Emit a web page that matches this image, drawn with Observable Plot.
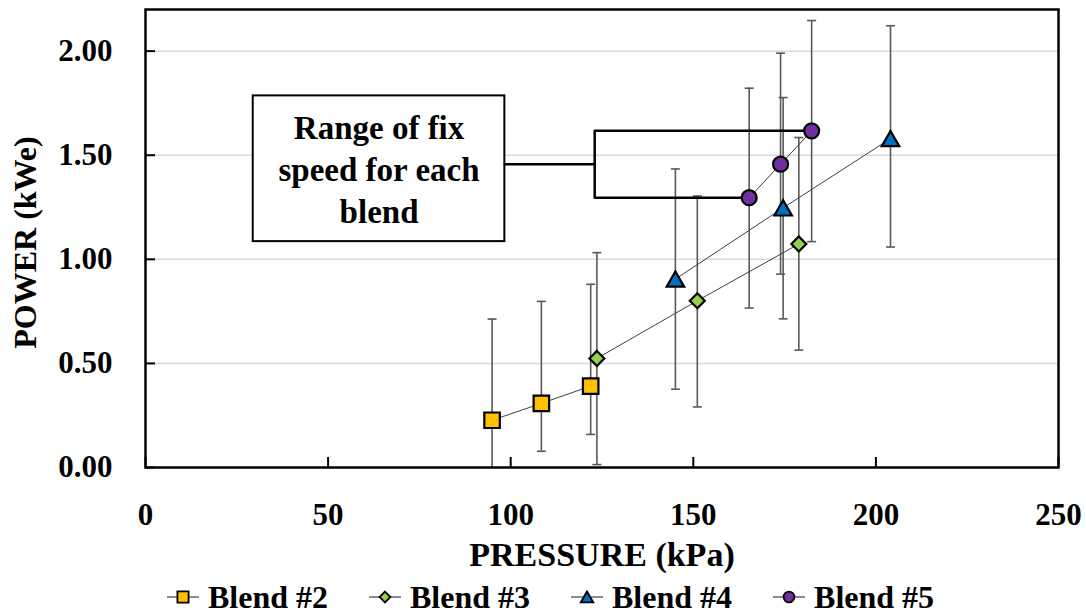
<!DOCTYPE html>
<html>
<head>
<meta charset="utf-8">
<script src="https://cdn.jsdelivr.net/npm/d3@7"></script>
<script src="https://cdn.jsdelivr.net/npm/@observablehq/plot@0.6"></script>
<style>
  html, body { margin: 0; padding: 0; background: #fff; }
  #chart { width: 1086px; }
  .legend {
    display: flex; justify-content: center; align-items: center;
    gap: 40px; height: 34px; padding-left: 14px;
    font-family: "Liberation Serif", serif; font-weight: bold; font-size: 32px; color: #000;
  }
  .legend .item { display: flex; align-items: center; gap: 8px; }
  .legend svg { display: block; }
</style>
</head>
<body>
<div id="chart"></div>
<script>
// Engine power vs. intake pressure for four fuel blends (mean ± error)
const blendNames = ["Blend #2", "Blend #3", "Blend #4", "Blend #5"];
const blendColors = ["#FFC000", "#92D050", "#0070C0", "#7030A0"];

const pressure2 = [94.9, 108.4, 121.9];
const power2    = [0.227, 0.308, 0.391];
const low2      = [-0.26, 0.078, 0.159];
const high2     = [0.713, 0.798, 0.880];

const pressure3 = [123.6, 151.1, 178.9];
const power3    = [0.524, 0.801, 1.074];
const low3      = [0.014, 0.291, 0.564];
const high3     = [1.032, 1.304, 1.585];

const pressure4 = [145.1, 174.6, 204.0];
const power4    = [0.905, 1.247, 1.580];
const low4      = [0.376, 0.714, 1.059];
const high4     = [1.434, 1.777, 2.122];

const pressure5 = [165.3, 173.9, 182.4];
const power5    = [1.296, 1.457, 1.617];
const low5      = [0.766, 0.929, 1.085];
const high5     = [1.822, 1.990, 2.147];

const xTicks = [0, 50, 100, 150, 200, 250];
const yTicks = [0, 0.5, 1.0, 1.5, 2.0];
const xTitle = "PRESSURE (kPa)";
const yTitle = "POWER (kWe)";

// Callout: text box and bracket spanning the Blend #5 speed range
const noteText = "Range of fix\nspeed for each\nblend";
const noteBoxX = [29.5, 98.4];
const noteBoxY = [1.085, 1.785];
const bracketX = 123.0;

// marker shapes (centred on their bounding box)
const capSymbol = { draw(ctx, size) { const r = Math.sqrt(size / Math.PI); ctx.moveTo(-r, 0); ctx.lineTo(r, 0); } };
const squareSymbol = { draw(ctx, size) { const s = Math.sqrt(size) / 2; ctx.rect(-s, -s, 2 * s, 2 * s); } };
const diamondSymbol = { draw(ctx, size) { const s = Math.sqrt(size / 2); ctx.moveTo(0, -s); ctx.lineTo(s, 0); ctx.lineTo(0, s); ctx.lineTo(-s, 0); ctx.closePath(); } };
const triangleSymbol = { draw(ctx, size) { const a = Math.sqrt(size / (Math.sqrt(3) / 4)); const h = a * Math.sqrt(3) / 2; ctx.moveTo(0, -h / 2); ctx.lineTo(a / 2, h / 2); ctx.lineTo(-a / 2, h / 2); ctx.closePath(); } };
const circleSymbol = { draw(ctx, size) { const r = Math.sqrt(size / Math.PI); ctx.moveTo(r, 0); ctx.arc(0, 0, r, 0, 2 * Math.PI); } };

// size = marker width in px
const series = [
  { name: blendNames[0], color: blendColors[0], symbol: squareSymbol,   size: 15.5, p: pressure2, w: power2, lo: low2, hi: high2 },
  { name: blendNames[1], color: blendColors[1], symbol: diamondSymbol,  size: 15,   p: pressure3, w: power3, lo: low3, hi: high3 },
  { name: blendNames[2], color: blendColors[2], symbol: triangleSymbol, size: 17.5, p: pressure4, w: power4, lo: low4, hi: high4 },
  { name: blendNames[3], color: blendColors[3], symbol: circleSymbol,   size: 15,   p: pressure5, w: power5, lo: low5, hi: high5 }
];
function areaFor(symbol, w) {
  if (symbol === squareSymbol) return w * w;
  if (symbol === diamondSymbol) return 2 * (w / 2) ** 2;
  if (symbol === triangleSymbol) return (Math.sqrt(3) / 4) * w * w;
  return Math.PI * (w / 2) ** 2;
}
const rFor = s => Math.sqrt(areaFor(s.symbol, s.size) / Math.PI);

const rows = series.flatMap(s => s.p.map((p, i) => ({ blend: s.name, pressure: p, power: s.w[i], low: s.lo[i], high: s.hi[i] })));

const W = 1086, H = 580;
const mL = 145, mR = 28, mT = 9, mB = 113;
const innerW = W - mL - mR, innerH = H - mT - mB;

const firstP5 = { x: pressure5[0], y: power5[0] };
const lastP5 = { x: pressure5[pressure5.length - 1], y: power5[power5.length - 1] };
const noteMidY = (firstP5.y + lastP5.y) / 2;

const marks = [
  Plot.ruleY(yTicks.filter(d => d > 0), { stroke: "#d9d9d9", strokeWidth: 1.5 }),
  // inward tick marks
  Plot.ruleY(yTicks, { stroke: "#000", strokeWidth: 2, insetRight: innerW - 10 }),
  Plot.ruleX(xTicks, { stroke: "#000", strokeWidth: 2, insetTop: innerH - 10 }),
  Plot.axisY(yTicks, { tickSize: 0, tickPadding: 33, tickFormat: d => d.toFixed(2), label: null }),
  Plot.axisX(xTicks, { tickSize: 0, tickPadding: 35, tickFormat: d => String(d), label: null }),
  // axis titles
  Plot.text([yTitle], { frameAnchor: "left", rotate: -90, dx: -120, dy: 4, lineAnchor: "middle", textAnchor: "middle", fontSize: 32 }),
  Plot.text([xTitle], { frameAnchor: "bottom", dy: 88, lineAnchor: "middle", textAnchor: "middle", fontSize: 34 }),
  // error bars
  Plot.ruleX(rows, { x: "pressure", y1: "low", y2: "high", stroke: "#595959", strokeWidth: 1.6, clip: true }),
  Plot.dot(rows, { x: "pressure", y: "high", symbol: capSymbol, r: 4.5, stroke: "#595959", strokeWidth: 1.6, fill: "none", clip: true }),
  Plot.dot(rows, { x: "pressure", y: "low", symbol: capSymbol, r: 4.5, stroke: "#595959", strokeWidth: 1.6, fill: "none", clip: true }),
  // callout box and bracket
  Plot.rect([noteText], { x1: noteBoxX[0], x2: noteBoxX[1], y1: noteBoxY[0], y2: noteBoxY[1], fill: "#fff", stroke: "#000", strokeWidth: 2 }),
  Plot.text([noteText], { x: (noteBoxX[0] + noteBoxX[1]) / 2, y: (noteBoxY[0] + noteBoxY[1]) / 2 + 0.006, text: d => d, lineAnchor: "middle", textAnchor: "middle", lineHeight: 1.28, fontSize: 33, fill: "#000" }),
  Plot.line([[noteBoxX[1], noteMidY], [bracketX, noteMidY]], { stroke: "#000", strokeWidth: 2.5 }),
  Plot.line([[lastP5.x, lastP5.y], [bracketX, lastP5.y], [bracketX, firstP5.y], [firstP5.x, firstP5.y]], { stroke: "#000", strokeWidth: 2.5 }),
  // connecting lines
  Plot.line(rows, { x: "pressure", y: "power", z: "blend", stroke: "#404040", strokeWidth: 1 })
];
for (const s of series) {
  marks.push(Plot.dot(rows.filter(d => d.blend === s.name), {
    x: "pressure", y: "power", symbol: s.symbol, r: rFor(s), fill: s.color, stroke: "#000", strokeWidth: 2.2
  }));
}
marks.push(Plot.frame({ stroke: "#000", strokeWidth: 2.5 }));

const svg = Plot.plot({
  width: W, height: H,
  marginLeft: mL, marginRight: mR, marginTop: mT, marginBottom: mB,
  style: { fontFamily: "'Liberation Serif', serif", fontWeight: "bold", fontSize: "31px", color: "#000", background: "#fff", overflow: "visible" },
  x: { domain: [0, 250] },
  y: { domain: [0, 2.2] },
  marks
});
document.getElementById("chart").append(svg);

// legend row
const legend = document.createElement("div");
legend.className = "legend";
for (const s of series) {
  const item = document.createElement("div");
  item.className = "item";
  const sw = d3.create("svg").attr("width", 34).attr("height", 24);
  sw.append("line").attr("x1", 1).attr("x2", 33).attr("y1", 12).attr("y2", 12).attr("stroke", "#404040").attr("stroke-width", 1.2);
  const area = areaFor(s.symbol, s.size * 0.72);
  sw.append("path").attr("transform", "translate(17,12)").attr("d", d3.symbol(s.symbol, area)())
    .attr("fill", s.color).attr("stroke", "#000").attr("stroke-width", 1.8);
  item.append(sw.node());
  const label = document.createElement("span");
  label.textContent = s.name;
  item.append(label);
  legend.append(item);
}
document.getElementById("chart").append(legend);
</script>
</body>
</html>
